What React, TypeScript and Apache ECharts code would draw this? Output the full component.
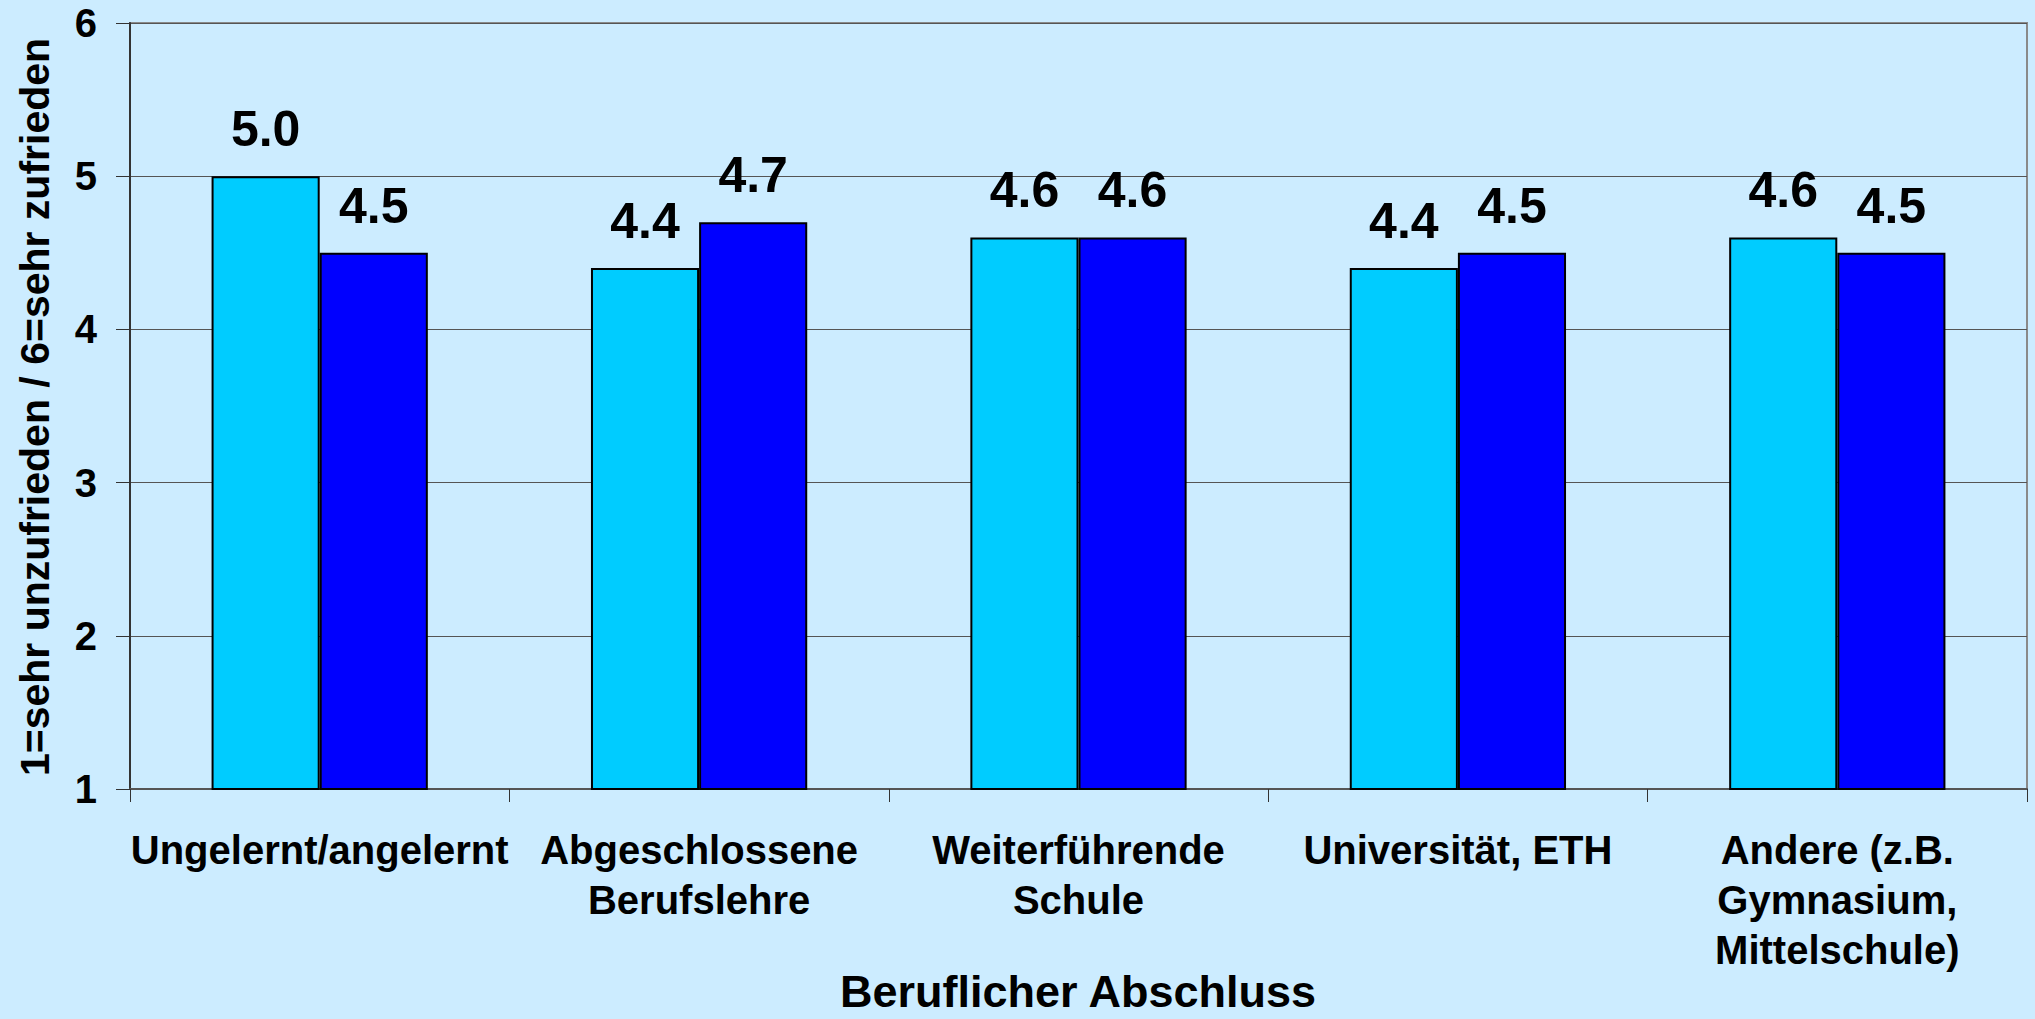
import React, { useEffect, useRef } from "react";
import * as echarts from "echarts";

const categories = [
  "Ungelernt/angelernt",
  "Abgeschlossene\nBerufslehre",
  "Weiterführende\nSchule",
  "Universität, ETH",
  "Andere (z.B.\nGymnasium,\nMittelschule)",
];
const seriesA = [5.0, 4.4, 4.6, 4.4, 4.6];
const seriesB = [4.5, 4.7, 4.6, 4.5, 4.5];
const yTicks = { min: 1, max: 6, interval: 1 };
const xTitle = "Beruflicher Abschluss";
const yTitle = "1=sehr unzufrieden / 6=sehr zufrieden";

const FONT = "'Liberation Sans', Arial, sans-serif";

export default function App() {
  const ref = useRef<HTMLDivElement>(null);
  useEffect(() => {
    document.body.style.margin = "0";
    const chart = echarts.init(ref.current!, null, { renderer: "svg" });
    const label = {
      show: true,
      position: "top",
      distance: 22,
      fontFamily: FONT,
      fontWeight: "bold",
      fontSize: 50,
      color: "#000",
      formatter: (p: any) => Number(p.value).toFixed(1),
    };
    chart.setOption({
      animation: false,
      backgroundColor: "#CCECFF",
      grid: {
        left: 130,
        right: 8,
        top: 23,
        bottom: 230,
        show: true,
        borderColor: "#8a8a8a",
        borderWidth: 2,
        backgroundColor: "transparent",
      },
      xAxis: {
        type: "category",
        data: categories,
        boundaryGap: true,
        axisLine: { show: true, lineStyle: { color: "#555", width: 2 } },
        axisTick: { show: true, length: 13, alignWithLabel: false, lineStyle: { color: "#333", width: 1 } },
        axisLabel: {
          interval: 0,
          margin: 36,
          fontFamily: FONT,
          fontWeight: "bold",
          fontSize: 40,
          lineHeight: 50,
          color: "#000",
        },
        splitLine: { show: false },
      },
      yAxis: {
        type: "value",
        min: yTicks.min,
        max: yTicks.max,
        interval: yTicks.interval,
        axisLine: { show: true, lineStyle: { color: "#333", width: 2 } },
        axisTick: { show: true, length: 14, inside: false, lineStyle: { color: "#333", width: 1 } },
        axisLabel: {
          margin: 33,
          fontFamily: FONT,
          fontWeight: "bold",
          fontSize: 40,
          color: "#000",
        },
        splitLine: { show: true, lineStyle: { color: "#555", width: 1 } },
      },
      series: [
        {
          type: "bar",
          data: seriesA,
          barGap: "0%",
          barCategoryGap: "43%",
          itemStyle: { color: "#00CCFF", borderColor: "#000", borderWidth: 2 },
          label,
        },
        {
          type: "bar",
          data: seriesB,
          barGap: "0%",
          barCategoryGap: "43%",
          itemStyle: { color: "#0000FF", borderColor: "#000", borderWidth: 2 },
          label,
        },
      ],
      graphic: [
        {
          type: "text",
          x: 1078,
          y: 991,
          style: {
            text: xTitle,
            fontFamily: FONT,
            fontWeight: "bold",
            fontSize: 45,
            lineHeight: 44,
            fill: "#000",
            align: "center",
            verticalAlign: "middle",
          },
        },
        {
          type: "text",
          x: 35,
          y: 407,
          rotation: Math.PI / 2,
          style: {
            text: yTitle,
            fontFamily: FONT,
            fontWeight: "bold",
            fontSize: 41,
            fill: "#000",
            align: "center",
            verticalAlign: "middle",
          },
        },
      ],
    });
    return () => chart.dispose();
  }, []);
  return (
    <div
      ref={ref}
      style={{ position: "fixed", left: 0, top: 0, width: 2035, height: 1019 }}
    />
  );
}
